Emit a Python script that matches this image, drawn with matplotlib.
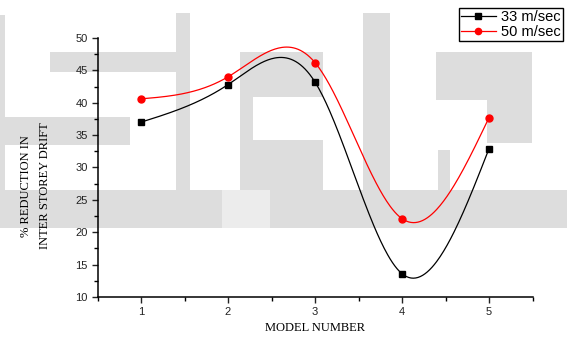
import numpy as np
import matplotlib
matplotlib.use("Agg")
import matplotlib.pyplot as plt
from matplotlib.patches import Rectangle
from matplotlib.ticker import MultipleLocator

models = [1, 2, 3, 4, 5]
drift_33 = [37.0, 42.8, 43.2, 13.6, 32.9]
drift_50 = [40.6, 44.0, 46.2, 22.1, 37.7]
series_labels = ["33 m/sec", "50 m/sec"]

W, H = 570, 340


def natural_spline(x, y, n=300):
    # natural cubic spline through the points, evaluated on a fine grid
    x = np.asarray(x, float)
    y = np.asarray(y, float)
    k = len(x)
    h = np.diff(x)
    A = np.zeros((k, k))
    b = np.zeros(k)
    A[0, 0] = A[-1, -1] = 1
    for i in range(1, k - 1):
        A[i, i - 1] = h[i - 1]
        A[i, i] = 2 * (h[i - 1] + h[i])
        A[i, i + 1] = h[i]
        b[i] = 6 * ((y[i + 1] - y[i]) / h[i] - (y[i] - y[i - 1]) / h[i - 1])
    M = np.linalg.solve(A, b)
    xs = np.linspace(x[0], x[-1], n)
    idx = np.clip(np.searchsorted(x, xs) - 1, 0, k - 2)
    x0, x1 = x[idx], x[idx + 1]
    hh = x1 - x0
    t0, t1 = x1 - xs, xs - x0
    ys = (M[idx] * t0**3 + M[idx + 1] * t1**3) / (6 * hh) \
        + (y[idx] / hh - M[idx] * hh / 6) * t0 \
        + (y[idx + 1] / hh - M[idx + 1] * hh / 6) * t1
    return xs, ys


fig = plt.figure(figsize=(W / 100, H / 100), dpi=100)

# faint background blocks
wm = [
    (0, 15, 5, 190), (176, 13, 190, 190), (50, 52, 190, 72),
    (0, 117, 130, 145), (0, 190, 222, 228), (270, 190, 567, 228),
    (240, 52, 323, 97), (240, 97, 253, 190), (253, 140, 323, 190),
    (363, 13, 390, 190), (436, 52, 532, 100), (487, 100, 532, 143),
    (438, 150, 450, 190),
]
for x0, y0, x1, y1 in wm:
    fig.add_artist(Rectangle((x0 / W, 1 - y1 / H), (x1 - x0) / W, (y1 - y0) / H,
                             transform=fig.transFigure, color="#dddddd",
                             lw=0, zorder=-5))
fig.add_artist(Rectangle((222 / W, 1 - 228 / H), 48 / W, 38 / H,
                         transform=fig.transFigure, color="#ececec",
                         lw=0, zorder=-5))

ax = fig.add_axes([97.5 / W, 1 - 297 / H, 435 / W, 259 / H])
ax.set_facecolor("none")

for vals, color, marker, label in [(drift_33, "black", "s", series_labels[0]),
                                   (drift_50, "red", "o", series_labels[1])]:
    xs, ys = natural_spline(models, vals)
    ax.plot(xs, ys, color=color, lw=0.9)
    ax.plot(models, vals, ls="none", marker=marker, color=color, ms=5)
    ax.plot([], [], color=color, lw=0.9, marker=marker, ms=4.5, label=label)

ax.set_xlim(0.5, 5.5)
ax.set_ylim(10, 50)
ax.xaxis.set_major_locator(MultipleLocator(1))
ax.xaxis.set_minor_locator(MultipleLocator(0.5))
ax.yaxis.set_major_locator(MultipleLocator(5))
ax.yaxis.set_minor_locator(MultipleLocator(2.5))
for s in ["top", "right"]:
    ax.spines[s].set_visible(False)
for s in ["left", "bottom"]:
    ax.spines[s].set_linewidth(1.1)
ax.tick_params(which="major", direction="out", length=4, width=1,
               labelsize=8, pad=3, colors="#222222")
ax.tick_params(which="minor", direction="out", length=3, width=1)
for lab in ax.get_xticklabels() + ax.get_yticklabels():
    lab.set_fontfamily("Liberation Sans")

fig.text(315 / W, 1 - 328 / H, "MODEL NUMBER", family="Liberation Serif",
         fontsize=9, ha="center", va="center")
fig.text(26 / W, 1 - 186 / H, "% REDUCTION IN", family="Liberation Serif",
         fontsize=9, ha="center", va="center", rotation=90)
fig.text(45 / W, 1 - 186 / H, "INTER STOREY DRIFT", family="Liberation Serif",
         fontsize=9, ha="center", va="center", rotation=90)

handles, labels = ax.get_legend_handles_labels()
leg = fig.legend(handles, labels, loc="upper right",
                 bbox_to_anchor=(563 / W, 1 - 8 / H), borderaxespad=0,
                 fancybox=False, edgecolor="black", framealpha=1,
                 prop={"family": "Liberation Sans", "size": 10.5},
                 handlelength=2.4, handletextpad=0.35, borderpad=0.15,
                 labelspacing=0.05)
leg.get_frame().set_linewidth(1)

fig.savefig("out.png", dpi=100)
